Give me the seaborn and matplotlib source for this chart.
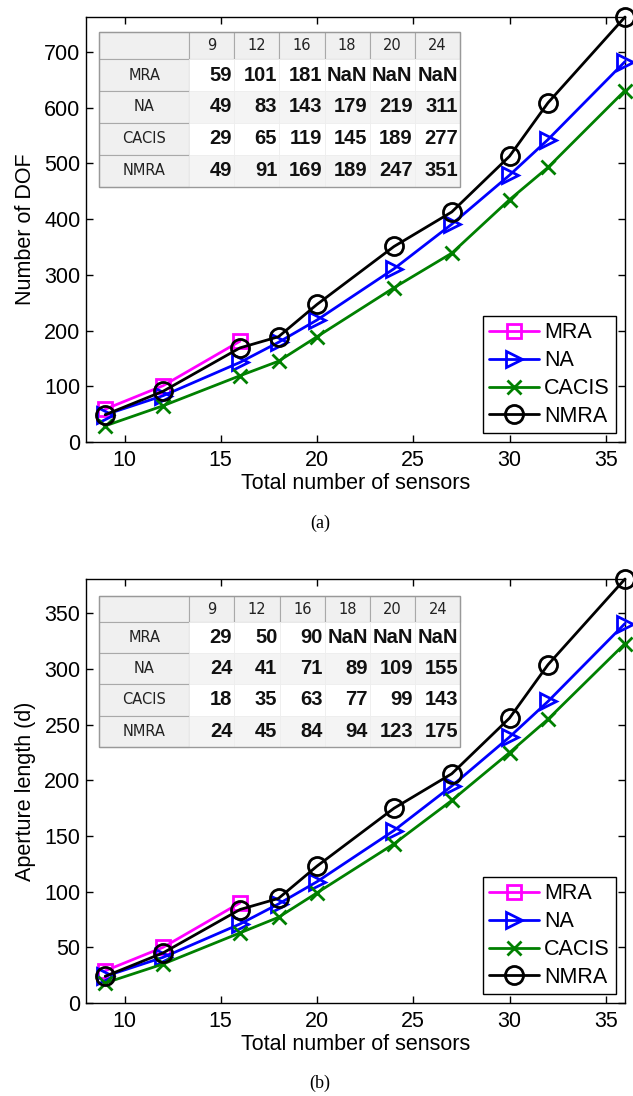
import numpy as np
import pandas as pd
import matplotlib
matplotlib.use("Agg")
import matplotlib.pyplot as plt
import seaborn as sns
from matplotlib.patches import Rectangle

# ---------------- data ----------------
sensors = [9, 12, 16, 18, 20, 24, 27, 30, 32, 36]
mra_sensors = [9, 12, 16]

dof_mra = [59, 101, 181]
dof_na = [49, 83, 143, 179, 219, 311, 391, 479, 543, 683]
dof_cacis = [29, 65, 119, 145, 189, 277, 339, 435, 493, 631]
dof_nmra = [49, 91, 169, 189, 247, 351, 413, 513, 609, 763]

ap_mra = [29, 50, 90]
ap_na = [24, 41, 71, 89, 109, 155, 195, 239, 271, 341]
ap_cacis = [18, 35, 63, 77, 99, 143, 182, 225, 255, 323]
ap_nmra = [24, 45, 84, 94, 123, 175, 206, 256, 304, 381]

table_cols = [9, 12, 16, 18, 20, 24]
series_names = ["MRA", "NA", "CACIS", "NMRA"]
colors = {"MRA": "#ff00ff", "NA": "#0000ff", "CACIS": "#008000", "NMRA": "#000000"}
markers = {"MRA": "s", "NA": ">", "CACIS": "x", "NMRA": "o"}
msizes = {"MRA": 10, "NA": 12, "CACIS": 10, "NMRA": 13}

xticks = [10, 15, 20, 25, 30, 35]
yticks_top = [0, 100, 200, 300, 400, 500, 600, 700]
yticks_bot = [0, 50, 100, 150, 200, 250, 300, 350]

# ---------------- style ----------------
sns.set_style("ticks")
plt.rcParams["font.family"] = ["Liberation Sans", "DejaVu Sans"]
plt.rcParams["axes.linewidth"] = 1.0
plt.rcParams["text.color"] = "black"
plt.rcParams["axes.labelcolor"] = "black"
plt.rcParams["xtick.color"] = "black"
plt.rcParams["ytick.color"] = "black"

FS = 15.5

W, H = 633, 1096
fig = plt.figure(figsize=(W / 100, H / 100), dpi=100)

left = 86 / W
width = (625 - 86) / W
ax_top = fig.add_axes([left, 1 - 442 / H, width, (442 - 17) / H])
ax_bot = fig.add_axes([left, 1 - 1003 / H, width, (1003 - 579) / H])


def make_df(vals_dict):
    rows = []
    for name in series_names:
        xs = mra_sensors if name == "MRA" else sensors
        for x, v in zip(xs, vals_dict[name]):
            rows.append({"sensors": x, "value": v, "series": name})
    return pd.DataFrame(rows)


def draw_panel(ax, vals_dict, ylim, yticks, ylabel, table_bbox):
    df = make_df(vals_dict)
    for name in series_names:
        sub = df[df["series"] == name]
        c = colors[name]
        sns.lineplot(data=sub, x="sensors", y="value", ax=ax, color=c,
                     marker=markers[name], markersize=msizes[name],
                     markerfacecolor="none", markeredgecolor=c,
                     markeredgewidth=2.0, linewidth=2.0, label=name,
                     clip_on=False, zorder=3)
    ax.set_xlim(8, 36)
    ax.set_ylim(*ylim)
    ax.set_xticks(xticks)
    ax.set_yticks(yticks)
    ax.tick_params(direction="in", top=True, right=True, length=5,
                   width=1, labelsize=FS, pad=4, colors="black")
    ax.tick_params(axis="x", pad=6)
    for s in ax.spines.values():
        s.set_visible(True)
        s.set_color("black")
    ax.set_xlabel("Total number of sensors", fontsize=FS, labelpad=1)
    ax.set_ylabel(ylabel, fontsize=FS, labelpad=6)

    leg = ax.legend(loc="lower right", fontsize=FS, frameon=True,
                    fancybox=False, edgecolor="black", framealpha=1,
                    handlelength=2.3, labelspacing=0.32, borderpad=0.3,
                    handletextpad=0.25, borderaxespad=0.4)
    leg.get_frame().set_linewidth(1.0)
    for t in leg.get_texts():
        t.set_color("black")

    # table with first six sensor counts
    header = [""] + [str(c) for c in table_cols]
    cell_text = [header]
    for name in series_names:
        xs = mra_sensors if name == "MRA" else sensors
        m = dict(zip(xs, vals_dict[name]))
        row = [name] + [str(m[c]) if c in m else "NaN" for c in table_cols]
        cell_text.append(row)

    tab = ax.table(cellText=cell_text, cellLoc="right", bbox=table_bbox,
                   zorder=5)
    tab.auto_set_font_size(False)
    col_w = [90] + [45.2] * 6
    row_h = [26.7] + [31.7] * 4
    for (r, c), cell in tab.get_celld().items():
        cell.set_width(col_w[c])
        cell.set_height(row_h[r])
        if r == 0 or c == 0:
            cell.set_facecolor("#f0f0f0")
            cell.set_edgecolor("#a9a9a9")
            cell.set_linewidth(0.8)
            cell._loc = "center"
            cell.get_text().set_ha("center")
            cell.get_text().set_fontsize(10.5)
            cell.get_text().set_color("#222222")
            cell.get_text().set_fontfamily(["DejaVu Sans"])
        else:
            cell.set_facecolor("#ffffff" if r % 2 == 1 else "#f4f4f4")
            cell.set_edgecolor("#eeeeee")
            cell.set_linewidth(0.6)
            cell.PAD = 0.05
            cell.get_text().set_fontsize(14.5)
            cell.get_text().set_fontweight("bold")
            cell.get_text().set_color("#111111")
    ax.add_patch(Rectangle((table_bbox[0], table_bbox[1]), table_bbox[2],
                           table_bbox[3], transform=ax.transAxes, fill=False,
                           edgecolor="#999999", linewidth=1.0, zorder=6))


dof = {"MRA": dof_mra, "NA": dof_na, "CACIS": dof_cacis, "NMRA": dof_nmra}
ap = {"MRA": ap_mra, "NA": ap_na, "CACIS": ap_cacis, "NMRA": ap_nmra}

draw_panel(ax_top, dof, (0, 763), yticks_top, "Number of DOF",
           [0.0247, 0.601, 0.669, 0.363])
draw_panel(ax_bot, ap, (0, 381), yticks_bot, "Aperture length (d)",
           [0.0247, 0.6045, 0.670, 0.3555])

fig.text(320 / W, 1 - 523 / H, "(a)", ha="center", va="center",
         fontsize=13, family=["Liberation Serif", "DejaVu Serif"])
fig.text(320 / W, 1 - 1083 / H, "(b)", ha="center", va="center",
         fontsize=13, family=["Liberation Serif", "DejaVu Serif"])

fig.savefig("out.png", dpi=100)
